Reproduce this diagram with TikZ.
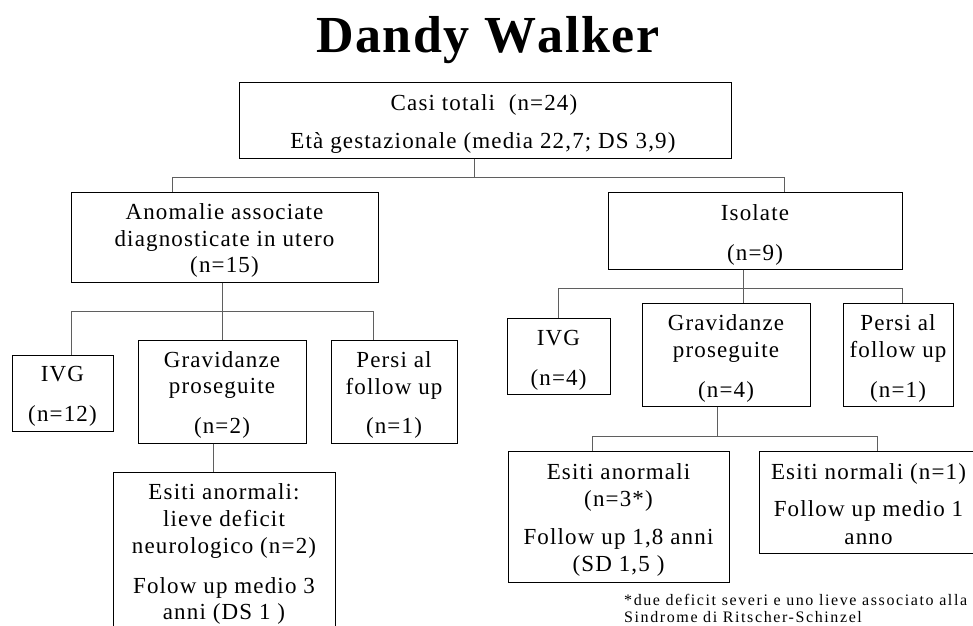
\documentclass[tikz,border=0pt]{standalone}
\usepackage{fontspec}
\setmainfont{Liberation Serif}[LetterSpace=5]
\newfontfamily\titlefont{Liberation Serif}[LetterSpace=3,Kerning=Off]
\newfontfamily\notefont{Liberation Serif}[LetterSpace=10]
\begin{document}
\begin{tikzpicture}[x=1pt,y=-1pt,
  box/.style={draw=black, line width=1pt, rectangle, inner sep=0pt},
  conn/.style={draw={rgb,255:red,95;green,95;blue,95}, line width=1pt},
  txt/.style={anchor=base, inner sep=0pt, font=\fontsize{23}{27}\selectfont},
  note/.style={anchor=base west, inner sep=0pt, font=\notefont\fontsize{16}{17}\selectfont}]
\useasboundingbox (0,0) rectangle (973,625);
% title
\node[anchor=base, inner sep=0pt, font=\titlefont\bfseries\fontsize{52}{60}\selectfont] (title) at (488,52) {Dandy Walker};
% boxes
\node[box, minimum width=492pt, minimum height=76pt] (top) at (485,120) {};
\node[box, minimum width=307pt, minimum height=90pt] (anom) at (224.5,237) {};
\node[box, minimum width=294pt, minimum height=77pt] (isol) at (755,230.5) {};
\node[box, minimum width=103pt, minimum height=76pt] (ivgR) at (558.5,356) {};
\node[box, minimum width=168pt, minimum height=103pt] (gravR) at (726,354.5) {};
\node[box, minimum width=110pt, minimum height=103pt] (persiR) at (898,354.5) {};
\node[box, minimum width=101pt, minimum height=76pt] (ivgL) at (62.5,393) {};
\node[box, minimum width=168pt, minimum height=103pt] (gravL) at (222,391.5) {};
\node[box, minimum width=126pt, minimum height=103pt] (persiL) at (394,391.5) {};
\node[box, minimum width=222pt, minimum height=168pt] (esL) at (224,556) {};
\node[box, minimum width=221pt, minimum height=131pt] (esA) at (618.5,516.5) {};
\node[box, minimum width=221pt, minimum height=102pt] (esN) at (869.5,502) {};
% texts
\node[txt] (t1) at (484,110) {Casi totali\ \ (n=24)};
\node[txt] (t2) at (483,148) {Età gestazionale (media 22,7; DS 3,9)};
\node[txt] (t3) at (224.5,219) {Anomalie associate};
\node[txt] (t4) at (224.5,246) {diagnosticate in utero};
\node[txt] (t5) at (224.5,272) {(n=15)};
\node[txt] (t6) at (755,220) {Isolate};
\node[txt] (t7) at (755,260) {(n=9)};
\node[txt] (t8) at (558.5,345) {IVG};
\node[txt] (t9) at (558.5,385) {(n=4)};
\node[txt] (t10) at (726,330) {Gravidanze};
\node[txt] (t11) at (726,357) {proseguite};
\node[txt] (t12) at (726,397) {(n=4)};
\node[txt] (t13) at (898,330) {Persi al};
\node[txt] (t14) at (898,357) {follow up};
\node[txt] (t15) at (898,397) {(n=1)};
\node[txt] (t16) at (62.5,381) {IVG};
\node[txt] (t17) at (62.5,421) {(n=12)};
\node[txt] (t18) at (222,367) {Gravidanze};
\node[txt] (t19) at (222,393) {proseguite};
\node[txt] (t20) at (222,433) {(n=2)};
\node[txt] (t21) at (394,367) {Persi al};
\node[txt] (t22) at (394,394) {follow up};
\node[txt] (t23) at (394,433) {(n=1)};
\node[txt] (t24) at (224,499) {Esiti anormali:};
\node[txt] (t25) at (224,526) {lieve deficit};
\node[txt] (t26) at (224,553) {neurologico (n=2)};
\node[txt] (t27) at (224,593) {Folow up medio 3};
\node[txt] (t28) at (224,619) {anni (DS 1 )};
\node[txt] (t29) at (618.5,479) {Esiti anormali};
\node[txt] (t30) at (618.5,506) {(n=3*)};
\node[txt] (t31) at (618.5,544) {Follow up 1,8 anni};
\node[txt] (t32) at (618.5,571) {(SD 1,5 )};
\node[txt] (t33) at (868.5,479) {Esiti normali (n=1)};
\node[txt] (t34) at (868.5,516) {Follow up medio 1};
\node[txt] (t35) at (868.5,544) {anno};
\node[note] (n1) at (624,605) {*due deficit severi e uno lieve associato alla};
\node[note] (n2) at (624,622) {Sindrome di Ritscher-Schinzel};
% junction coordinates
\coordinate (j1) at (474,177);
\coordinate (b1l) at (172,177);
\coordinate (b1r) at (784,177);
\coordinate (j2) at (222,311);
\coordinate (b2l) at (71,311);
\coordinate (b2r) at (373,311);
\coordinate (j3) at (213,458);
\coordinate (j4) at (743,288);
\coordinate (b4l) at (558,288);
\coordinate (b4r) at (902,288);
\coordinate (j5) at (717,436);
\coordinate (b5l) at (592,436);
\coordinate (b5r) at (877,436);
% connectors
\draw[conn] (top.south -| j1) -- (j1);
\draw[conn] (b1l) -- (b1r);
\draw[conn] (b1l) -- (b1l |- anom.north);
\draw[conn] (b1r) -- (b1r |- isol.north);
\draw[conn] (anom.south -| j2) -- (gravL.north -| j2);
\draw[conn] (b2l) -- (b2r);
\draw[conn] (b2l) -- (b2l |- ivgL.north);
\draw[conn] (b2r) -- (b2r |- persiL.north);
\draw[conn] (gravL.south -| j3) -- (esL.north -| j3);
\draw[conn] (isol.south -| j4) -- (gravR.north -| j4);
\draw[conn] (b4l) -- (b4r);
\draw[conn] (b4l) -- (b4l |- ivgR.north);
\draw[conn] (b4r) -- (b4r |- persiR.north);
\draw[conn] (gravR.south -| j5) -- (j5);
\draw[conn] (b5l) -- (b5r);
\draw[conn] (b5l) -- (b5l |- esA.north);
\draw[conn] (b5r) -- (b5r |- esN.north);
\end{tikzpicture}
\end{document}
